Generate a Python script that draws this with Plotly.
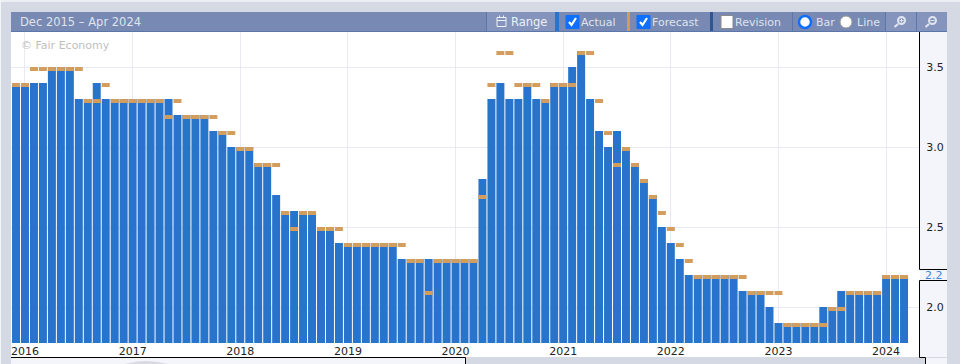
import plotly.graph_objects as go

YEARS = [2016, 2017, 2018, 2019, 2020, 2021, 2022, 2023, 2024]
MONTH_NAMES = ["Jan", "Feb", "Mar", "Apr", "May", "Jun", "Jul", "Aug", "Sep", "Oct", "Nov", "Dec"]
months = ["Dec 2015"] + [f"{m} {y}" for y in YEARS[:-1] for m in MONTH_NAMES] + ["Jan 2024", "Feb 2024", "Mar 2024"]

actual = [
    3.4, 3.4, 3.4, 3.4, 3.5, 3.5, 3.5, 3.3, 3.3, 3.4, 3.3, 3.3, 3.3,
    3.3, 3.3, 3.3, 3.3, 3.3, 3.2, 3.2, 3.2, 3.2, 3.1, 3.1, 3.0,
    3.0, 3.0, 2.9, 2.9, 2.7, 2.6, 2.6, 2.6, 2.6, 2.5, 2.5, 2.4,
    2.4, 2.4, 2.4, 2.4, 2.4, 2.4, 2.3, 2.3, 2.3, 2.3, 2.3, 2.3,
    2.3, 2.3, 2.3, 2.8, 3.3, 3.4, 3.3, 3.3, 3.4, 3.3, 3.3, 3.4,
    3.4, 3.5, 3.6, 3.3, 3.1, 3.0, 3.1, 3.0, 2.9, 2.8, 2.7, 2.5,
    2.4, 2.3, 2.2, 2.2, 2.2, 2.2, 2.2, 2.2, 2.1, 2.1, 2.1, 2.0,
    1.9, 1.9, 1.9, 1.9, 1.9, 2.0, 2.0, 2.1, 2.1, 2.1, 2.1, 2.1,
    2.2, 2.2, 2.2,
]
forecast = [
    3.4, 3.4, 3.5, 3.5, 3.5, 3.5, 3.5, 3.5, 3.3, 3.3, 3.4, 3.3, 3.3,
    3.3, 3.3, 3.3, 3.3, 3.2, 3.3, 3.2, 3.2, 3.2, 3.2, 3.1, 3.1,
    3.0, 3.0, 2.9, 2.9, 2.9, 2.6, 2.5, 2.6, 2.6, 2.5, 2.5, 2.5,
    2.4, 2.4, 2.4, 2.4, 2.4, 2.4, 2.4, 2.3, 2.3, 2.1, 2.3, 2.3,
    2.3, 2.3, 2.3, 2.7, 3.4, 3.6, 3.6, 3.4, 3.4, 3.4, 3.3, 3.4,
    3.4, 3.4, 3.6, 3.6, 3.3, 3.1, 2.9, 3.0, 2.9, 2.8, 2.7, 2.6,
    2.5, 2.4, 2.3, 2.2, 2.2, 2.2, 2.2, 2.2, 2.2, 2.1, 2.1, 2.1,
    2.1, 1.9, 1.9, 1.9, 1.9, 1.9, 2.0, 2.0, 2.1, 2.1, 2.1, 2.1,
    2.2, 2.2, 2.2,
]
latest_label = "2.2"
latest_value = 2.2
y_ticks = [2.0, 2.5, 3.0, 3.5]
year_ticks = [f"Jan {y}" for y in YEARS]
year_labels = [str(y) for y in YEARS]

W, H = 960, 364
L, R, T, B = 11, 920, 32, 343
FONT = "DejaVu Sans"
GREY = "#d5d9e3"; PANEL = "#f4f5fa"; BAR = "#7889b3"; BTN = "#8594bd"; SEP = "#5b76a8"
BLUE = "#2a74cc"; ORANGE = "#d19c5b"; DARK = "#2f5594"; HTXT = "#dfe4ef"

def px(x): return (x - L) / (R - L)
def py(y): return (B - y) / (B - T)

shapes, annos = [], []
def rect(x0, y0, x1, y1, fill, line=None, lw=1, layer="below"):
    shapes.append(dict(type="rect", xref="paper", yref="paper", x0=px(x0), x1=px(x1), y0=py(y0), y1=py(y1),
                       fillcolor=fill, line=dict(color=line, width=lw) if line else dict(width=0), layer=layer))
def seg(x0, y0, x1, y1, color, lw=1, layer="above"):
    shapes.append(dict(type="line", xref="paper", yref="paper", x0=px(x0), x1=px(x1), y0=py(y0), y1=py(y1),
                       line=dict(color=color, width=lw), layer=layer))
def circ(x0, y0, x1, y1, fill, line=None, lw=1):
    shapes.append(dict(type="circle", xref="paper", yref="paper", x0=px(x0), x1=px(x1), y0=py(y0), y1=py(y1),
                       fillcolor=fill, line=dict(color=line, width=lw) if line else dict(width=0), layer="above"))
def text(x, y, s, color=HTXT, size=11, anchor="left"):
    annos.append(dict(xref="paper", yref="paper", x=px(x), y=py(y), text=s, showarrow=False, xanchor=anchor,
                      yanchor="middle", xshift=0, borderpad=0, borderwidth=0,
                      font=dict(family=FONT, size=size, color=color)))

# page frame
rect(0, 0, 960, 2, "#eceef3")
rect(0, 0, 1, 364, "#f4f5f8")
# right scale panel
rect(920, T, 947, 357, PANEL)
seg(919.5, T, 919.5, 269.5, "#000000")
seg(919.5, 269.5, 947, 269.5, "#000000")
seg(919.5, 280.5, 947, 280.5, "#000000")
seg(919.5, 280.5, 919.5, 357.5, "#000000")
seg(919.5, 357.5, 925.5, 357.5, "#000000")
seg(925.5, 357.5, 925.5, 364, "#000000")
rect(926, 358, 947, 364, PANEL)
# bottom band
rect(L, B, 920, 357, "#ffffff")
rect(L, 358, 465, 364, PANEL)
seg(L, 357.5, 465.5, 357.5, "#000000")
seg(465.5, 357.5, 465.5, 364, "#000000")
shapes.append(dict(type="path", xref="paper", yref="paper", layer="below", line=dict(width=0), fillcolor="#d9dbe2",
                   path=f"M {px(125)} {py(364)} Q {px(145)} {py(358)} {px(168)} {py(364)} Z"))
# toolbar
rect(L, 12, 947, 31, BAR)
seg(L, 31.5, 947, 31.5, SEP, 1)
rect(487, 12, 555, 31, BTN)
rect(886, 12, 916, 31, BTN)
rect(917, 12, 947, 31, BTN)
for x in [486.5, 792.5, 885.5, 916.5]:
    seg(x, 12, x, 31, SEP)
rect(555, 12, 559, 31, BLUE)
rect(627, 12, 630, 31, ORANGE)
rect(710, 12, 713, 31, DARK)

text(20, 22, "Dec 2015 – Apr 2024", size=11.5)
text(21, 45.5, "© Fair Economy", color="#c0c0c0", size=11)
text(511, 22, "Range", color="#eef1f7", size=11.5)
text(581, 22, "Actual", size=11)
text(652, 22, "Forecast", size=11)
text(735, 22, "Revision", size=11)
text(816, 22, "Bar", size=11)
text(857, 22, "Line", size=11)

# calendar icon
rect(497, 17.5, 506, 26.5, "rgba(0,0,0,0)", "#eef1f7", 1, layer="above")
seg(497, 20.5, 506, 20.5, "#eef1f7")
seg(499.5, 15.5, 499.5, 18, "#eef1f7")
seg(503.5, 15.5, 503.5, 18, "#eef1f7")

# checkboxes
for x0, fill in [(566, "#0f6fff"), (637, "#0f6fff")]:
    shapes.append(dict(type="rect", xref="paper", yref="paper", x0=px(x0), x1=px(x0+13), y0=py(15.5), y1=py(28.5),
                       fillcolor=fill, line=dict(color=fill, width=1), layer="above"))
    shapes.append(dict(type="path", xref="paper", yref="paper", layer="above", fillcolor="rgba(0,0,0,0)",
                       line=dict(color="#ffffff", width=2.2),
                       path=f"M {px(x0+3)} {py(22)} L {px(x0+5.5)} {py(25)} L {px(x0+10)} {py(18)}"))
rect(721, 15.5, 733, 28.5, "#ffffff", "#8a8a8a", 1, layer="above")
# radios
circ(799, 16, 811, 28, "#ffffff", "#0f6fff", 2.5)
circ(840, 16, 852, 28, "#ffffff", "#999999", 1)
# magnifiers
for cx, plus in [(901, True), (932, False)]:
    circ(cx - 3, 17, cx + 4, 24, "rgba(0,0,0,0)", "#dfe4ef", 2)
    seg(cx - 3, 24, cx - 6.5, 27, "#dfe4ef", 2.2)
    seg(cx - 1.5, 20.5, cx + 2.5, 20.5, "#dfe4ef", 1)
    if plus:
        seg(cx + 0.5, 18.5, cx + 0.5, 22.5, "#dfe4ef", 1)

# latest value label
annos.append(dict(xref="paper", yref="y", x=px(933.5), y=latest_value, text=latest_label, showarrow=False,
                  xanchor="center", yanchor="middle", font=dict(family=FONT, size=11, color="#3f86dc")))

tick_height = 0.025

fig = go.Figure()
fig.add_bar(x=months, y=actual, name="Actual", marker=dict(color="#2874cc", line=dict(width=0)), width=0.89)
fig.add_bar(x=months, y=[-tick_height] * len(forecast), base=forecast, name="Forecast",
            marker=dict(color="#d39d5e", line=dict(width=0)), width=0.89)
fig.update_layout(
    width=W, height=H, margin=dict(l=L, r=W - R, t=T, b=H - B, pad=0, autoexpand=False), barmode="overlay", showlegend=False,
    paper_bgcolor=GREY, plot_bgcolor="#ffffff", shapes=shapes, annotations=annos,
    font=dict(family=FONT, size=11, color="#222222"),
    xaxis=dict(type="category", categoryorder="array", categoryarray=months, range=[-0.56, 100.78], automargin=False,
               tickmode="array", tickvals=year_ticks, ticktext=year_labels, showgrid=True, gridcolor="#e8e9f2",
               gridwidth=1, ticks="", showline=False, zeroline=False, tickfont=dict(size=11, color="#222222")),
    yaxis=dict(side="right", range=[1.775, 3.719], tickmode="array", tickvals=y_ticks, ticktext=["2.0", "2.5", "3.0", "3.5"],
               showgrid=True, gridcolor="#e8e9f2", gridwidth=1, ticks="outside", ticklen=3, tickcolor="rgba(0,0,0,0)",
               showline=False, zeroline=False, automargin=False, tickfont=dict(size=11, color="#222222")),
)
fig.write_html("out.html", config={"displayModeBar": False},
               post_script="document.body.style.margin='0';document.body.style.overflow='hidden';")
